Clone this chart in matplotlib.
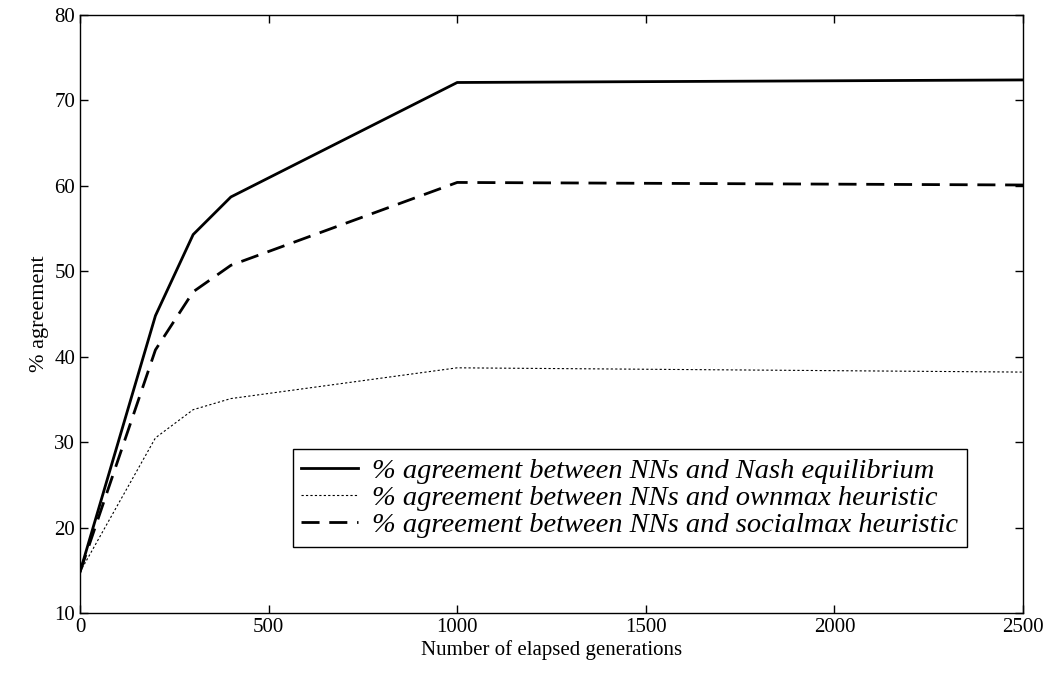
import numpy as np
import matplotlib
matplotlib.use('Agg')
import matplotlib.pyplot as plt

# generations and % agreement values
gens = [0, 200, 300, 400, 1000, 2500]
nash = [14.8, 44.8, 54.3, 58.7, 72.1, 72.4]
ownmax = [14.8, 30.5, 33.8, 35.1, 38.7, 38.2]
socialmax = [14.8, 40.8, 47.6, 50.7, 60.4, 60.1]

labels = ['% agreement between NNs and Nash equilibrium',
          '% agreement between NNs and ownmax heuristic',
          '% agreement between NNs and socialmax heuristic']

plt.rcParams['font.family'] = 'Liberation Serif'
plt.rcParams['font.size'] = 15

fig = plt.figure(figsize=(10.55, 6.82), dpi=100)
ax = fig.add_axes([80/1055, 1-613/682, (1023-80)/1055, (613-15)/682])

ax.plot(gens, nash, 'k-', lw=2, label=labels[0])
ax.plot(gens, ownmax, 'k', ls=(0, (2, 2)), lw=0.8, label=labels[1])
ax.plot(gens, socialmax, 'k', ls=(0, (6.5, 3.5)), lw=2, label=labels[2])

ax.axis([0, 2500, 10, 80])
ax.set_xticks(np.arange(0, 2501, 500))
ax.set_yticks(np.arange(10, 81, 10))
ax.tick_params(direction='in', top=True, right=True, length=6, width=1)
for s in ax.spines.values():
    s.set_linewidth(1)
ax.set_xlabel('Number of elapsed generations', labelpad=2)
ax.set_ylabel('% agreement', labelpad=4, fontsize=16)

# legend box: right edge ~967px, bottom ~547px
leg = ax.legend(loc='lower right', bbox_to_anchor=((967-80)/943, (613-547)/598),
                borderaxespad=0, prop={'style': 'italic', 'size': 20.5},
                fancybox=False, edgecolor='k', framealpha=1,
                handlelength=2.0, handletextpad=0.5,
                borderpad=0.3, labelspacing=0.05)
leg.get_frame().set_linewidth(1)

fig.savefig('out.png', dpi=100)
